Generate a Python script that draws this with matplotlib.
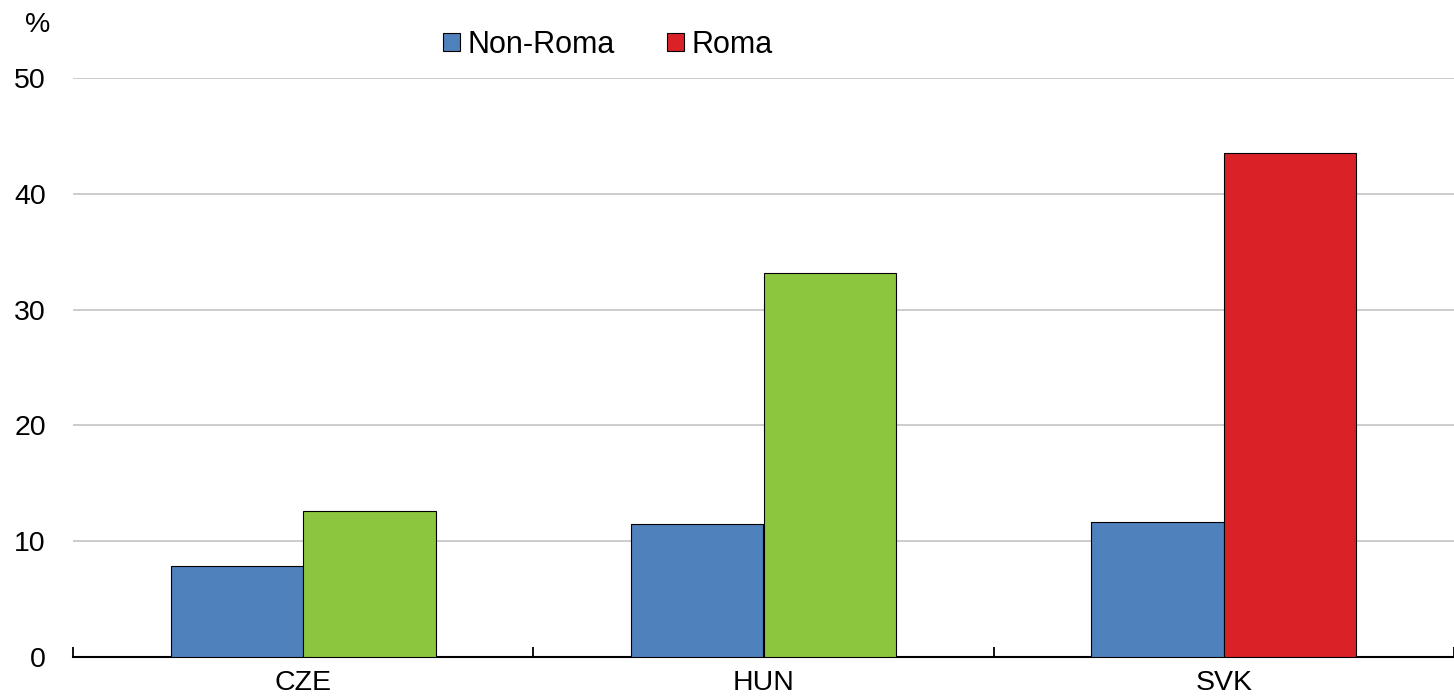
import numpy as np
import matplotlib.pyplot as plt
from matplotlib.patches import Patch

plt.rcParams['font.family'] = ['Liberation Sans', 'DejaVu Sans']

# Data
countries = ["CZE", "HUN", "SVK"]
non_roma = [7.9, 11.5, 11.7]
roma = [12.6, 33.2, 43.5]
roma_colors = ["#8CC63F", "#8CC63F", "#DA2128"]

blue = "#4F81BD"
red = "#DA2128"

fig = plt.figure(figsize=(14.54, 6.96), dpi=100)
ax = fig.add_axes([73 / 1454, 1 - 657 / 696, 1 - 73 / 1454, (657 - 78) / 696])

x = np.arange(len(countries))
w = 0.2875
ax.bar(x - w / 2, non_roma, w, color=blue, edgecolor="black", linewidth=0.8, zorder=3)
ax.bar(x + w / 2, roma, w, color=roma_colors, edgecolor="black", linewidth=0.8, zorder=3)

ax.set_ylim(0, 50)
ax.set_xlim(-0.5, -0.5 + (1454 - 73) / 463)
ax.set_yticks(range(0, 51, 10))
ax.yaxis.grid(True, color="#c8c8c8", linewidth=1.3, zorder=0)
ax.set_axisbelow(True)

# category labels centred, ticks at the boundaries
ax.set_xticks(x)
ax.set_xticklabels(countries)
ax.set_xticks([-0.5, 0.5, 1.5, 2.5], minor=True)
ax.tick_params(axis="x", which="major", length=0, pad=9, labelsize=20.5)
ax.tick_params(axis="x", which="minor", direction="in", length=7, width=1.3)
ax.tick_params(axis="y", length=0, pad=19.5, labelsize=20.5)

for s in ["top", "right", "left"]:
    ax.spines[s].set_visible(False)
ax.spines["bottom"].set_linewidth(1.5)

fig.text(38 / 1454, 1 - 25 / 696, "%", fontsize=20.5, ha="center", va="center")

handles = [Patch(facecolor=blue, edgecolor="black", linewidth=0.8),
           Patch(facecolor=red, edgecolor="black", linewidth=0.8)]
fig.legend(handles, ["Non-Roma", "Roma"], loc="center", bbox_to_anchor=(608 / 1454, 1 - 45 / 696),
           ncol=2, frameon=False, fontsize=22, handlelength=0.55, handleheight=0.55,
           handletextpad=0.23, columnspacing=1.73, borderpad=0)

fig.savefig("out.png", dpi=100)
